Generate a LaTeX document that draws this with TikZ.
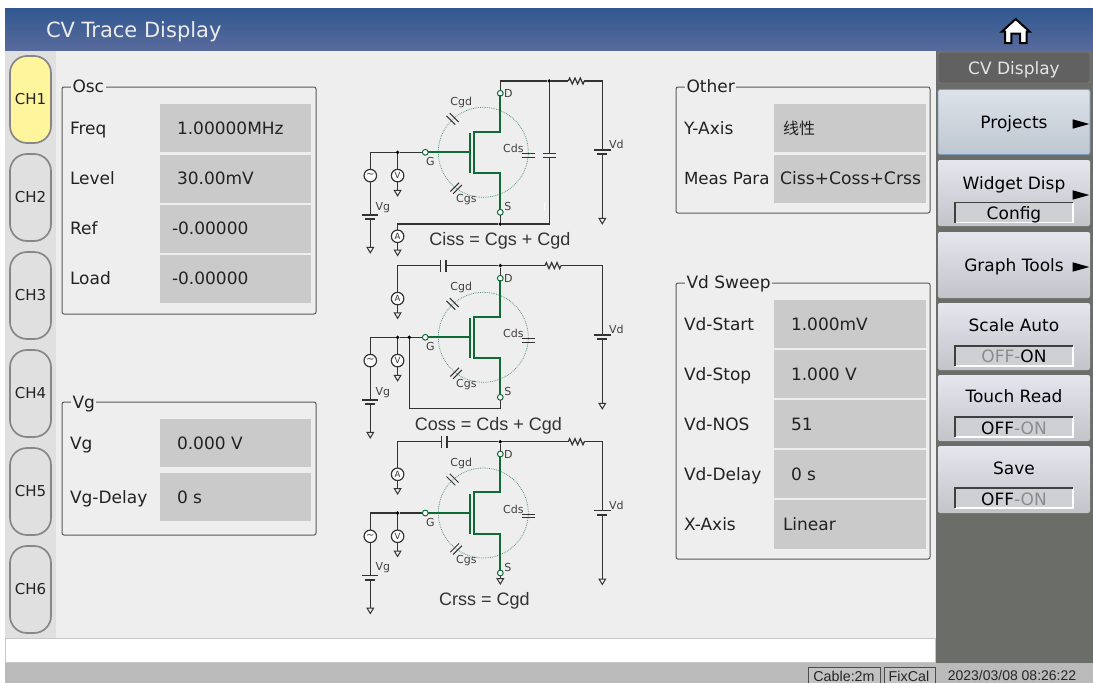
\documentclass[tikz,border=0pt]{standalone}
\usepackage{fontspec}
\setmainfont{DejaVu Sans}
\newfontfamily\arialf{Liberation Sans}
\newfontfamily\cjkf{Noto Sans CJK SC}
\definecolor{bgmain}{HTML}{EEEEEE}
\definecolor{bgstrip}{HTML}{E0E0E0}
\definecolor{valgray}{HTML}{CBCACB}
\definecolor{panelgray}{HTML}{6B6D68}
\definecolor{fetgreen}{HTML}{0F6B36}
\definecolor{wirec}{HTML}{333333}
\definecolor{lblc}{HTML}{404040}
\definecolor{txtc}{HTML}{222222}
\definecolor{offc}{HTML}{8C8C8C}
\definecolor{BtnTop}{HTML}{E6E6EE}
\definecolor{BtnBot}{HTML}{C2C4CA}
\definecolor{ProjTop}{HTML}{DDE2EA}
\definecolor{ProjBot}{HTML}{BEC7D0}
\definecolor{ProjEdge}{HTML}{7F9DBD}
\definecolor{HdrTop}{HTML}{2F5890}
\definecolor{HdrBot}{HTML}{5A6A9C}
\definecolor{ChY}{HTML}{FFF59D}
\definecolor{SubF}{HTML}{CFD0D4}
\newcommand{\fs}[1]{\fontsize{#1}{#1}\selectfont}
\tikzset{
  x=1pt,y=-1pt,
  ui/.style={inner sep=0,outer sep=0,anchor=north west},
  txt/.style={inner sep=0,outer sep=0,anchor=base west,text=txtc,font=\fs{17}},
  ctxt/.style={inner sep=0,outer sep=0,anchor=base,text=txtc,font=\fs{17}},
  frame/.style={ui,draw=black!65,line width=1pt,rounded corners=2pt},
  val/.style={ui,fill=valgray},
  chan/.style={ui,draw=black!47,line width=1.7pt,rounded corners=17pt,fill=bgstrip},
  btn/.style={ui,draw=none,rounded corners=2pt,top color=BtnTop,bottom color=BtnBot},
  wire/.style={draw=wirec,line width=1.2pt},
  fetw/.style={draw=fetgreen,line width=2pt},
  term/.style={circle,draw=fetgreen,fill=white,line width=1pt,minimum size=5.8pt,inner sep=0,outer sep=0},
  dotj/.style={circle,fill=black,minimum size=3.8pt,inner sep=0,outer sep=0},
  meter/.style={circle,draw=wirec,fill=white,line width=1.2pt,minimum size=12.5pt,inner sep=0,outer sep=0,text=wirec,font=\fs{8.5}},
  clbl/.style={inner sep=0,outer sep=0,anchor=center,text=lblc,font=\fs{11}},
  formula/.style={inner sep=0,outer sep=0,anchor=center,text=wirec,font=\arialf\fs{18}},
  gtitle/.style={txt,fill=bgmain,inner xsep=1.5pt,inner ysep=1pt},
}
% \uibox[style]{name}{x1}{y1}{x2}{y2}
\newcommand{\uibox}[6][ui]{%
  \pgfmathsetmacro{\uiw}{#5-#3}\pgfmathsetmacro{\uih}{#6-#4}%
  \node[#1,minimum width=\uiw pt,minimum height=\uih pt] (#2) at (#3,#4) {};}
\newcommand{\gndat}[1]{\draw[wire,line width=1pt,fill=bgmain] (#1) ++(-3.3,0) -- ++(6.6,0) -- ++(-3.3,5.5) -- cycle;}
\newcommand{\zigto}[2]{\draw[wire] (#1) -- ++(1.33,-3) -- ++(2.67,6) -- ++(2.67,-6) -- ++(2.67,6) -- ++(2.67,-6) -- ++(2.67,6) -- (#2);}
\newcommand{\fetcommon}{%
  % terminals
  \node[term] (G) at (0,0) {};
  \node[term] (D) at (75,-59) {};
  \node[term] (S) at (75,60) {};
  \draw[fetgreen!70!white,line width=.8pt,densely dotted] (58,0) circle [radius=45];
  \coordinate (gm) at (44.7,0);
  \coordinate (chT) at (48.7,-20.7);
  \coordinate (chB) at (48.7,21);
  \coordinate (dk) at (75,-20.7);
  \coordinate (sk) at (75,21);
  \draw[fetw] (G) -- (gm);
  \draw[fetw] (44.7,-19.5) -- (44.7,20.5);
  \draw[fetw,line cap=rect] (D) -- (dk) -- (chT) -- (chB) -- (sk) -- (S);
  % labels
  \node[clbl] (lG) at (5,9.5) {G};
  \node[clbl] (lD) at (83,-59) {D};
  \node[clbl] (lS) at (82.5,54) {S};
  \node[clbl] (lCgd) at (36,-49.7) {Cgd};
  \node[clbl] (lCgs) at (41,47.3) {Cgs};
  \node[clbl] (lCds) at (88,-4) {Cds};
  % Cgd, Cgs, Cds capacitor symbols
  \draw[wirec,line width=1pt] (21.2,-36.5) -- (30,-27.7) (24.5,-39.2) -- (33.3,-30.4);
  \draw[wirec,line width=1pt] (25,39.2) -- (33.8,30.4) (27.8,41.5) -- (36.6,32.7);
  \draw[wirec,line width=1pt] (97,1.3) -- (110,1.3) (97,4.7) -- (110,4.7);
  % gate side
  \node[dotj] (jV) at (-27.7,0) {};
  \node[meter] (src) at (-55,23.3) {\raisebox{.3pt}{\fs{10}\char`\~}};
  \node[meter] (mV) at (-27.7,23.3) {V};
  \coordinate (tl) at (-55,0);
  \coordinate (bg1) at (-55,62.7);
  \coordinate (bg2) at (-55,66.7);
  \coordinate (gg) at (-55,95);
  \coordinate (gv) at (-27.7,38);
  \draw[wire] (G) -- (jV) -- (tl) -- (src);
  \draw[wire] (src) -- (bg1);
  \draw[wire] (bg2) -- (gg);
  \draw[wire] (jV) -- (mV);
  \draw[wire] (mV) -- (gv);
  \gndat{gg}\gndat{gv}
  \draw[wire] (-63,62.7) -- (-47,62.7);
  \draw[wirec,line width=2.2pt] (-60,66.7) -- (-50,66.7);
  \node[clbl] (lVg) at (-42.5,55) {Vg};
  % drain supply
  \coordinate (bd1) at (177,-2.3);
  \coordinate (bd2) at (177,2);
  \coordinate (gd) at (177,66);
  \draw[wire] (bd2) -- (gd);
  \gndat{gd}
  \draw[wire] (169,-2.3) -- (186,-2.3);
  \draw[wirec,line width=2.2pt] (172,2) -- (182,2);
  \node[clbl] (lVd) at (191,-7.7) {Vd};
}
\begin{document}
\begin{tikzpicture}
\useasboundingbox (0,0) rectangle (1093,683);
\fill[white] (0,0) rectangle (1093,683);
% background regions
\uibox[ui,fill=bgmain]{mainbg}{56}{50}{936}{638}
\uibox[ui,fill=bgstrip]{strip}{5}{50}{56}{638}
\uibox[ui,fill=panelgray]{rightbg}{936}{50}{1093}{663}
\uibox[ui,top color=HdrTop,bottom color=HdrBot]{hdr}{5}{8}{1093}{50.5}
\uibox[ui,fill=white,draw=black!22,line width=.8pt]{inputb}{5.5}{638.5}{935.5}{662.5}
\uibox[ui,fill=black!27]{status}{5}{663}{1093}{683}
\node[txt,text=white!92!black,font=\fs{21}] (title) at (46,37) {CV Trace Display};
% home icon
\draw[black,line width=2pt,fill=white,line join=miter]
  (1015.7,19) -- (1029.5,31.5) -- (1026.5,31.5) -- (1026.5,43.2) -- (1020.2,43.2) -- (1020.2,33.5) -- (1011.4,33.5) -- (1011.4,43.2) -- (1005,43.2) -- (1005,31.5) -- (1002,31.5) -- cycle;
% channel tabs
\uibox[chan,fill=ChY]{ch1}{10}{56}{51}{143}
\uibox[chan]{ch2}{10}{154}{51}{241}
\uibox[chan]{ch3}{10}{252}{51}{339}
\uibox[chan]{ch4}{10}{350}{51}{437}
\uibox[chan]{ch5}{10}{448}{51}{535}
\uibox[chan]{ch6}{10}{546}{51}{633}
\foreach \n/\b in {1/104.3,2/202.3,3/300.3,4/398.3,5/496.3,6/594.3}
  \node[ctxt,font=\fs{15}] (chl\n) at (30.5,\b) {CH\n};
% group frames
\uibox[frame]{gOsc}{62}{87}{316}{314}
\uibox[frame]{gVg}{62}{402}{316}{535}
\uibox[frame]{gOther}{676}{87}{930}{213}
\uibox[frame]{gSweep}{676}{283}{930}{559}
\node[gtitle] (tOsc) at (71,92) {Osc};
\node[gtitle] (tVg) at (71,408) {Vg};
\node[gtitle] (tOther) at (685,92) {Other};
\node[gtitle] (tSweep) at (685,288) {Vd Sweep};
% Osc
\uibox[val]{v1}{160}{104}{311}{152}
\uibox[val]{v2}{160}{155}{311}{203}
\uibox[val]{v3}{160}{205}{311}{253}
\uibox[val]{v4}{160}{255}{311}{303}
\node[txt] (l1) at (70,134) {Freq};
\node[txt] (l2) at (70,184) {Level};
\node[txt] (l3) at (70,234) {Ref};
\node[txt] (l4) at (70,284) {Load};
\node[txt] (x1) at (177,134) {1.00000MHz};
\node[txt] (x2) at (177,184) {30.00mV};
\node[txt] (x3) at (172,234) {-0.00000};
\node[txt] (x4) at (172,284) {-0.00000};
% Vg
\uibox[val]{v5}{160}{419}{311}{467}
\uibox[val]{v6}{160}{473}{311}{521}
\node[txt] (l5) at (70,449) {Vg};
\node[txt] (l6) at (70,503) {Vg-Delay};
\node[txt] (x5) at (177,449) {0.000 V};
\node[txt] (x6) at (177,503) {0 s};
% Other
\uibox[val]{v7}{774}{104}{926}{152}
\uibox[val]{v8}{774}{155}{926}{203}
\node[txt] (l7) at (684,134) {Y-Axis};
\node[txt,font=\fs{16.7}] (l8) at (684,184) {Meas Para};
\node[txt,font=\cjkf\fs{16}] (x7) at (783,134) {线性};
\node[txt,font=\fs{17.2}] (x8) at (780,184) {Ciss+Coss+Crss};
% Vd sweep
\uibox[val]{v9}{774}{300}{926}{348}
\uibox[val]{v10}{774}{350}{926}{398}
\uibox[val]{v11}{774}{400}{926}{448}
\uibox[val]{v12}{774}{450}{926}{498}
\uibox[val]{v13}{774}{500}{926}{549}
\node[txt] (l9) at (684,330) {Vd-Start};
\node[txt] (l10) at (684,380) {Vd-Stop};
\node[txt] (l11) at (684,430) {Vd-NOS};
\node[txt] (l12) at (684,480) {Vd-Delay};
\node[txt] (l13) at (684,530) {X-Axis};
\node[txt] (x9) at (791,330) {1.000mV};
\node[txt] (x10) at (791,380) {1.000 V};
\node[txt] (x11) at (791,430) {51};
\node[txt] (x12) at (791,480) {0 s};
\node[txt] (x13) at (783,530) {Linear};
% right menu
\uibox[ui,fill=black!62,rounded corners=3pt,draw=black!50,line width=.5pt]{bHead}{938}{52}{1090}{83}
\node[ctxt,text=white!90!black] (tHead) at (1014,74) {CV Display};
\uibox[ui,top color=ProjTop,bottom color=ProjBot,draw=ProjEdge,line width=.8pt,rounded corners=2pt]{b1}{938}{89.5}{1090}{154.5}
\uibox[btn]{b2}{938}{160}{1090}{226}
\uibox[btn]{b3}{938}{232}{1090}{298}
\uibox[btn]{b4}{938}{303}{1090}{370}
\uibox[btn]{b5}{938}{375}{1090}{441}
\uibox[btn]{b6}{938}{446}{1090}{513}
\node[ctxt,text=black] (t1) at (1014,128) {Projects};
\node[ctxt,text=black] (t2) at (1014,189) {Widget Disp};
\node[ctxt,text=black] (t3) at (1014,271) {Graph Tools};
\node[ctxt,text=black] (t4) at (1014,331) {Scale Auto};
\node[ctxt,text=black] (t5) at (1014,402.5) {Touch Read};
\node[ctxt,text=black] (t6) at (1014,474) {Save};
\foreach \y in {124,195,267}
  \fill[black] (1072.7,\y-4.7) -- (1089.3,\y) -- (1072.7,\y+4.7) -- cycle;
% value sub boxes
\foreach \nm/\a/\b in {s2/202.5/222.5,s4/346/366,s5/417/437,s6/488/508}{
  \uibox[ui,fill=SubF]{\nm}{955}{\a}{1073}{\b}
  \draw[white,line width=1.2pt] (955,\b) -- (1073,\b) -- (1073,\a);
  \draw[black!75,line width=1.2pt] (955,\b) -- (955,\a) -- (1073,\a);
}
\node[ctxt,text=black] (o2) at (1014,219.5) {Config};
\node[ctxt] (o4) at (1014,362.7) {\textcolor{offc}{OFF-}\textcolor{black}{ON}};
\node[ctxt] (o5) at (1014,434) {\textcolor{black}{OFF}\textcolor{offc}{-ON}};
\node[ctxt] (o6) at (1014,505.7) {\textcolor{black}{OFF}\textcolor{offc}{-ON}};
% status bar
\uibox[ui,draw=black!70,fill=black!24,line width=1pt]{sCab}{808}{667}{880}{690}
\uibox[ui,draw=black!70,fill=black!24,line width=1pt]{sFix}{884}{667}{935}{690}
\node[ctxt,font=\arialf\fs{14.3},text=black!85] (tCab) at (844,681.5) {Cable:2m};
\node[ctxt,font=\arialf\fs{14.3},text=black!85] (tFix) at (909,681.5) {FixCal};
\node[ctxt,font=\arialf\fs{14},text=black!85] (tDate) at (1012,680.5) {2023/03/08 08:26:22};
% ---- circuit 1
\begin{scope}[shift={(425.3,152.3)},name prefix=a-]
  \fetcommon
  \node[dotj] (jTop) at (124,-71.3) {};
  \node[dotj] (jBot) at (75,71.7) {};
  \node[meter] (mA) at (-27.7,84) {A};
  \coordinate (cTop) at (75,-71.3);
  \coordinate (r1) at (143,-71.3);
  \coordinate (r2) at (159,-71.3);
  \coordinate (tr) at (177,-71.3);
  \coordinate (c1) at (124,1);
  \coordinate (c2) at (124,5);
  \coordinate (br) at (124,71.7);
  \coordinate (bl) at (-27.7,71.7);
  \coordinate (gA) at (-27.7,97.7);
  \draw[wire] (D) -- (cTop) -- (jTop);
  \draw[wire] (jTop) -- (r1);
  \zigto{r1}{r2}
  \draw[wire] (r2) -- (tr) -- (bd1);
  \draw[wire] (jTop) -- (c1);
  \draw[wire] (c2) -- (br) -- (jBot);
  \draw[wire] (jBot) -- (S);
  \draw[wire] (jBot) -- (bl) -- (mA);
  \draw[wire] (mA) -- (gA);
  \gndat{gA}
  \draw[wirec,line width=1pt] (118,1) -- (130.5,1) (118,5) -- (130.5,5);
  \node[formula] (f) at (74.7,88.8) {Ciss = Cgs + Cgd};
\end{scope}
\fill[white] (543.5,203) rectangle (545,211);
% ---- circuit 2
\begin{scope}[shift={(425.3,337.3)},name prefix=b-]
  \fetcommon
  \node[dotj] (jTop) at (75,-71.7) {};
  \node[dotj] (jS) at (-16,0) {};
  \node[meter] (mA) at (-27.7,-38.7) {A};
  \coordinate (r1) at (119.7,-71.7);
  \coordinate (r2) at (135.7,-71.7);
  \coordinate (tr) at (177,-71.7);
  \coordinate (tl2) at (-27.7,-71.7);
  \coordinate (c1) at (15.3,-71.7);
  \coordinate (c2) at (20.7,-71.7);
  \coordinate (gA) at (-27.7,-24.5);
  \coordinate (b1) at (-16,71.3);
  \coordinate (b2) at (75,71.3);
  \draw[wire] (D) -- (jTop);
  \draw[wire] (jTop) -- (r1);
  \zigto{r1}{r2}
  \draw[wire] (r2) -- (tr) -- (bd1);
  \draw[wire] (jTop) -- (c2);
  \draw[wire] (c1) -- (tl2) -- (mA);
  \draw[wire] (mA) -- (gA);
  \gndat{gA}
  \draw[wirec,line width=1.1pt] (15.3,-77.7) -- (15.3,-65.7) (20.7,-77.7) -- (20.7,-65.7);
  \draw[wire] (jS) -- (b1) -- (b2) -- (S);
  \node[formula] (f) at (63,88.2) {Coss = Cds + Cgd};
\end{scope}
% ---- circuit 3
\begin{scope}[shift={(425.3,513)},name prefix=c-]
  \fetcommon
  \node[dotj] (jTop) at (75,-71.3) {};
  \node[meter] (mA) at (-27.7,-38.7) {A};
  \coordinate (r1) at (143,-71.3);
  \coordinate (r2) at (159,-71.3);
  \coordinate (tr) at (177,-71.3);
  \coordinate (tl2) at (-27.7,-71.3);
  \coordinate (c1) at (16.3,-71.3);
  \coordinate (c2) at (21.7,-71.3);
  \coordinate (gA) at (-27.7,-24.5);
  \coordinate (gS) at (75,65.5);
  \draw[wire] (D) -- (jTop);
  \draw[wire] (jTop) -- (r1);
  \zigto{r1}{r2}
  \draw[wire] (r2) -- (tr) -- (bd1);
  \draw[wire] (jTop) -- (c2);
  \draw[wire] (c1) -- (tl2) -- (mA);
  \draw[wire] (mA) -- (gA);
  \gndat{gA}
  \draw[wirec,line width=1.1pt] (16.3,-77.3) -- (16.3,-65.3) (21.7,-77.3) -- (21.7,-65.3);
  \draw[wire] (S) -- (gS);
  \gndat{gS}
  \node[formula] (f) at (59,87.7) {Crss = Cgd};
\end{scope}
\end{tikzpicture}
\end{document}
